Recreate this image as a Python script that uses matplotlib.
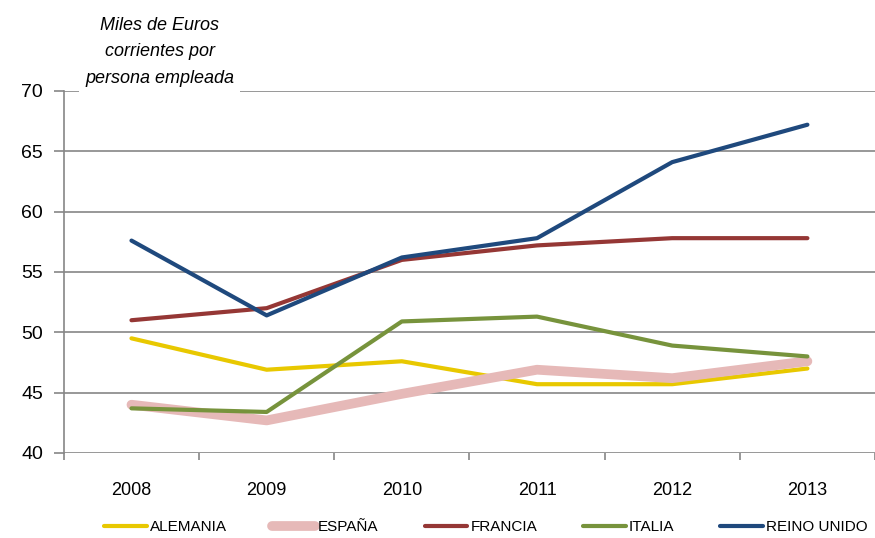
import matplotlib

matplotlib.use("Agg")
import matplotlib.pyplot as plt

YEARS = ["2008", "2009", "2010", "2011", "2012", "2013"]
ALEMANIA = [49.5, 46.9, 47.6, 45.7, 45.7, 47.0]
ESPANA = [44.0, 42.7, 44.9, 46.9, 46.2, 47.6]
FRANCIA = [51.0, 52.0, 56.0, 57.2, 57.8, 57.8]
ITALIA = [43.7, 43.4, 50.9, 51.3, 48.9, 48.0]
REINO_UNIDO = [57.6, 51.4, 56.2, 57.8, 64.1, 67.2]

SERIES = [
    ("ALEMANIA", ALEMANIA, "#E8C800", 3.0),
    ("ESPAÑA", ESPANA, "#E6B9B8", 7.0),
    ("FRANCIA", FRANCIA, "#953735", 3.0),
    ("ITALIA", ITALIA, "#77933C", 3.0),
    ("REINO UNIDO", REINO_UNIDO, "#1F497D", 3.0),
]

GRID = "#868686"

plt.rcParams["font.family"] = ["Liberation Sans", "DejaVu Sans"]

fig = plt.figure(figsize=(8.75, 5.38), dpi=100)
ax = fig.add_axes([0.073, 0.158, 0.927, 0.673])

x = list(range(len(YEARS)))
for name, values, color, lw in SERIES:
    ax.plot(x, values, color=color, lw=lw, label=name, solid_capstyle="round", zorder=3)

ax.set_xlim(-0.5, len(YEARS) - 0.5)
ax.set_ylim(40, 70)
ax.set_yticks(range(40, 71, 5))
ax.grid(axis="y", color=GRID, lw=1.2, zorder=0)
ax.set_axisbelow(True)

for side in ["top", "right", "bottom"]:
    ax.spines[side].set_visible(False)
ax.spines["left"].set_color(GRID)
ax.spines["left"].set_linewidth(1.2)

ax.set_xticks(x)
ax.set_xticklabels(YEARS, fontsize=13)
ax.set_xticks([i - 0.5 for i in range(len(YEARS) + 1)], minor=True)
ax.tick_params(axis="x", which="major", length=0, pad=21)
ax.tick_params(axis="x", which="minor", length=5, color=GRID, width=1.2)
ax.tick_params(axis="y", length=7, color=GRID, width=1.2, labelsize=14, pad=8)

ax.text(
    0.118, 1.108, "Miles de Euros\ncorrientes por\npersona empleada",
    transform=ax.transAxes, ha="center", va="center", fontsize=13,
    style="italic", linespacing=1.75,
    bbox=dict(facecolor="white", edgecolor="none", pad=4), zorder=5, clip_on=False,
)

ax.legend(
    loc="center", bbox_to_anchor=(0.52, -0.205), ncol=5, frameon=False,
    fontsize=11, handlelength=2.8, columnspacing=3.0, handletextpad=0.2,
)

fig.savefig("out.png", dpi=100)
